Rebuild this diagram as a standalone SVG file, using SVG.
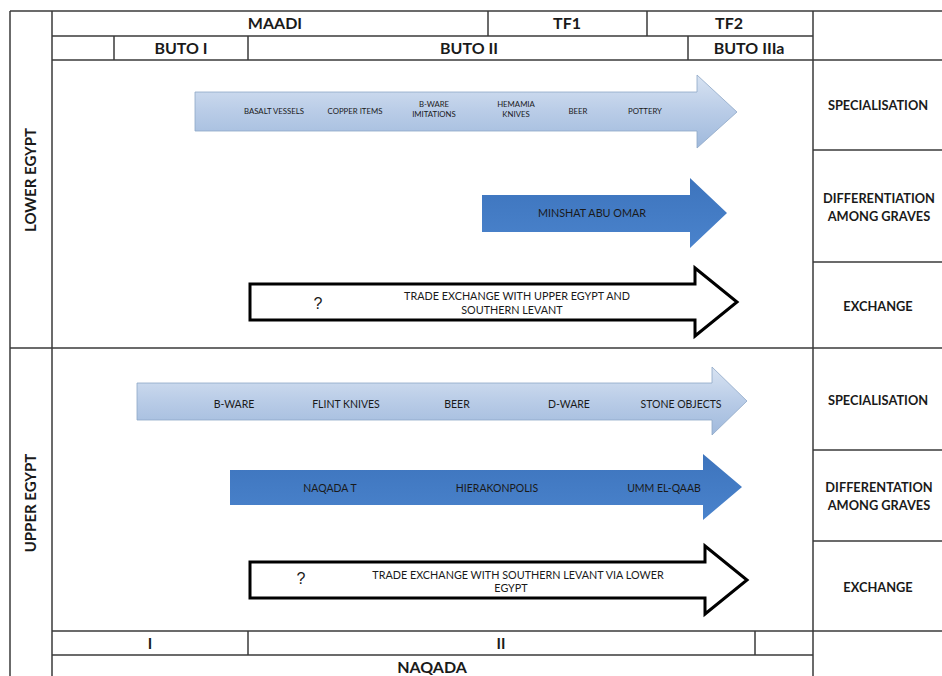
<svg xmlns="http://www.w3.org/2000/svg" width="942" height="676" viewBox="0 0 942 676">
<defs>
<linearGradient id="gLight" x1="0" y1="0" x2="0" y2="1">
<stop offset="0" stop-color="#d8e3f2"/>
<stop offset="0.5" stop-color="#b9cce7"/>
<stop offset="1" stop-color="#9fb9dc"/>
</linearGradient>
<linearGradient id="gDark" x1="0" y1="0" x2="0" y2="1">
<stop offset="0" stop-color="#3d74bd"/>
<stop offset="1" stop-color="#4a83cc"/>
</linearGradient>
<style>
.ln{stroke:#3a3a3a;stroke-width:1.5;fill:none}
.hd{font-family:Lato,"Liberation Sans",sans-serif;font-weight:bold;font-size:15px;fill:#1a1a1a;text-anchor:middle}
.hb{font-family:Lato,"Liberation Sans",sans-serif;font-weight:bold;font-size:16px;fill:#1a1a1a;text-anchor:middle}
.rl{font-family:Lato,"Liberation Sans",sans-serif;font-weight:bold;font-size:12.8px;fill:#1a1a1a;text-anchor:middle}
.al{font-family:Lato,"Liberation Sans",sans-serif;font-size:7.8px;fill:#1a1a1a;text-anchor:middle}
.bl{font-family:Lato,"Liberation Sans",sans-serif;font-size:10.5px;fill:#1a1a1a;text-anchor:middle}
.tl{font-family:Lato,"Liberation Sans",sans-serif;font-size:10.8px;fill:#1a1a1a;text-anchor:middle}
.q{font-family:"Liberation Sans",sans-serif;font-size:16px;fill:#1a1a1a;text-anchor:middle}
.light{fill:url(#gLight);stroke:#8ea7c7;stroke-width:0.8}
.dark{fill:url(#gDark);stroke:none}
.open{fill:#ffffff;stroke:#000000;stroke-width:3;stroke-linejoin:miter}
</style>
</defs>
<rect x="0" y="0" width="942" height="676" fill="#ffffff"/>
<g id="grid">
<line class="ln" x1="10" y1="11" x2="942" y2="11"/>
<line class="ln" x1="10" y1="11" x2="10" y2="676"/>
<line class="ln" x1="52" y1="11" x2="52" y2="676"/>
<line class="ln" x1="813" y1="11" x2="813" y2="676"/>
<line class="ln" x1="52" y1="36" x2="813" y2="36"/>
<line class="ln" x1="52" y1="60" x2="942" y2="60"/>
<line class="ln" x1="488" y1="11" x2="488" y2="36"/>
<line class="ln" x1="647" y1="11" x2="647" y2="36"/>
<line class="ln" x1="114" y1="36" x2="114" y2="60"/>
<line class="ln" x1="248" y1="36" x2="248" y2="60"/>
<line class="ln" x1="688" y1="36" x2="688" y2="60"/>
<line class="ln" x1="813" y1="150" x2="942" y2="150"/>
<line class="ln" x1="813" y1="262" x2="942" y2="262"/>
<line class="ln" x1="10" y1="348" x2="942" y2="348"/>
<line class="ln" x1="813" y1="450" x2="942" y2="450"/>
<line class="ln" x1="813" y1="541" x2="942" y2="541"/>
<line class="ln" x1="52" y1="631" x2="942" y2="631"/>
<line class="ln" x1="52" y1="655" x2="813" y2="655"/>
<line class="ln" x1="248" y1="631" x2="248" y2="655"/>
<line class="ln" x1="755" y1="631" x2="755" y2="655"/>
</g>
<g id="side-labels">
<text class="hd" transform="translate(36,180) rotate(-90)">LOWER EGYPT</text>
<text class="hd" transform="translate(36,503) rotate(-90)">UPPER EGYPT</text>
</g>
<g id="header">
<text class="hb" x="275" y="29">MAADI</text>
<text class="hb" x="567" y="29">TF1</text>
<text class="hb" x="729" y="29">TF2</text>
<text class="hb" x="181" y="54">BUTO I</text>
<text class="hb" x="469" y="54">BUTO II</text>
<text class="hb" x="749" y="54">BUTO IIIa</text>
</g>
<g id="right-labels">
<text class="rl" x="878" y="110">SPECIALISATION</text>
<text class="rl" x="879" y="203">DIFFERENTIATION</text>
<text class="rl" x="879" y="221">AMONG GRAVES</text>
<text class="rl" x="878" y="311">EXCHANGE</text>
<text class="rl" x="878" y="405">SPECIALISATION</text>
<text class="rl" x="879" y="492">DIFFERENTATION</text>
<text class="rl" x="879" y="510">AMONG GRAVES</text>
<text class="rl" x="878" y="592">EXCHANGE</text>
</g>
<g id="bottom">
<text class="hd" x="150" y="649">I</text>
<text class="hd" x="501" y="649">II</text>
<text class="hb" x="432" y="673">NAQADA</text>
</g>
<g id="arrow-lower-specialisation">
<path class="light" d="M195,92 L697,92 L697,75 L737,112 L697,148 L697,131 L195,131 Z"/>
<text class="al" x="274" y="114">BASALT VESSELS</text>
<text class="al" x="355" y="114">COPPER ITEMS</text>
<text class="al" x="434" y="107">B-WARE</text>
<text class="al" x="434" y="117">IMITATIONS</text>
<text class="al" x="516" y="107">HEMAMIA</text>
<text class="al" x="516" y="117">KNIVES</text>
<text class="al" x="578" y="114">BEER</text>
<text class="al" x="645" y="114">POTTERY</text>
</g>
<g id="arrow-lower-differentiation">
<path class="dark" d="M482,195 L690,195 L690,178 L727,213 L690,248 L690,232 L482,232 Z"/>
<text class="tl" x="592" y="217">MINSHAT ABU OMAR</text>
</g>
<g id="arrow-lower-exchange">
<path class="open" d="M250,284 L695,284 L695,268 L737,302 L695,336 L695,320 L250,320 Z"/>
<text class="q" x="318" y="309">?</text>
<text class="tl" x="517" y="300">TRADE EXCHANGE WITH UPPER EGYPT AND</text>
<text class="tl" x="512" y="314">SOUTHERN LEVANT</text>
</g>
<g id="arrow-upper-specialisation">
<path class="light" d="M137,383 L712,383 L712,367 L747,401 L712,435 L712,420 L137,420 Z"/>
<text class="bl" x="234" y="408">B-WARE</text>
<text class="bl" x="346" y="408">FLINT KNIVES</text>
<text class="bl" x="457" y="408">BEER</text>
<text class="bl" x="569" y="408">D-WARE</text>
<text class="bl" x="681" y="408">STONE OBJECTS</text>
</g>
<g id="arrow-upper-differentiation">
<path class="dark" d="M230,470 L703,470 L703,454 L742,487 L703,520 L703,505 L230,505 Z"/>
<text class="bl" x="330" y="492">NAQADA T</text>
<text class="bl" x="497" y="492">HIERAKONPOLIS</text>
<text class="bl" x="664" y="492">UMM EL-QAAB</text>
</g>
<g id="arrow-upper-exchange">
<path class="open" d="M250,562 L705,562 L705,546 L747,580 L705,614 L705,598 L250,598 Z"/>
<text class="q" x="301" y="584">?</text>
<text class="tl" x="518" y="579">TRADE EXCHANGE WITH SOUTHERN LEVANT VIA LOWER</text>
<text class="tl" x="511" y="592">EGYPT</text>
</g>
</svg>
